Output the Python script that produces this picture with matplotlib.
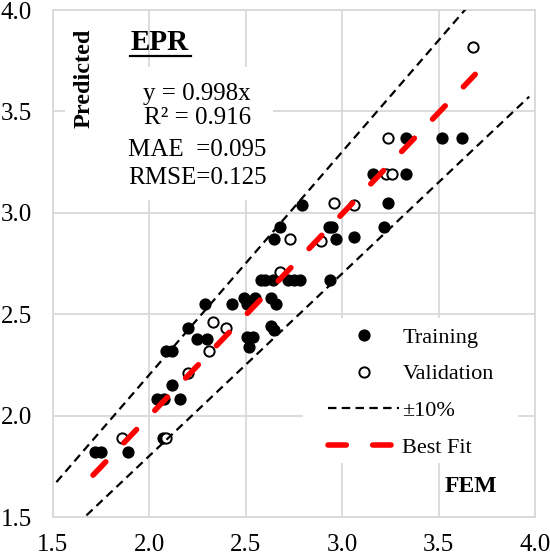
import matplotlib
matplotlib.use('Agg')
import matplotlib.pyplot as plt
from matplotlib.patches import Rectangle
from matplotlib.lines import Line2D
import numpy as np

# data
train_x = [1.72, 1.75, 1.89, 2.07, 2.04, 2.08, 2.16, 2.12, 2.09, 2.12, 2.20, 2.25, 2.30,
           2.29, 2.43, 2.49, 2.51, 2.55, 2.63, 2.66, 2.63, 2.65, 2.51, 2.54, 2.52, 2.58,
           2.60, 2.64, 2.72, 2.75, 2.78, 2.94, 2.65, 2.68, 2.93, 2.95, 2.97, 3.06, 2.79,
           3.22, 3.24, 3.16, 3.33, 3.33, 3.52, 3.62]
train_y = [1.82, 1.82, 1.82, 1.89, 2.08, 2.08, 2.08, 2.15, 2.32, 2.32, 2.43, 2.38, 2.38,
           2.55, 2.55, 2.58, 2.55, 2.58, 2.58, 2.55, 2.44, 2.42, 2.39, 2.39, 2.34, 2.67,
           2.67, 2.67, 2.67, 2.67, 2.67, 2.67, 2.87, 2.93, 2.93, 2.93, 2.87, 2.88, 3.04,
           2.93, 3.05, 3.19, 3.19, 3.37, 3.37, 3.37]
val_x = [1.86, 2.09, 2.20, 2.31, 2.33, 2.40, 2.68, 2.73, 2.89, 2.96, 3.06, 3.24, 3.23, 3.26, 3.68]
val_y = [1.89, 1.89, 2.21, 2.32, 2.46, 2.43, 2.71, 2.87, 2.86, 3.05, 3.04, 3.37, 3.19, 3.19, 3.82]

slope = 0.998
band = 0.10
fit_range = [1.71, 3.69]
band_range = [1.52, 3.97]
ticks = [1.5, 2.0, 2.5, 3.0, 3.5, 4.0]
stats = ['y = 0.998x', 'R\u00b2 = 0.916', 'MAE  =0.095', 'RMSE=0.125']

plt.rcParams['font.family'] = ['Liberation Serif', 'DejaVu Serif']

fig = plt.figure(figsize=(5.5, 5.56), dpi=100)
ax = fig.add_axes([0.0955, 0.0701, 0.8773, 0.9119])

grid_c = '#d9d9d9'
ax.set_xlim(1.5, 4.0)
ax.set_ylim(1.5, 4.0)
ax.set_xticks(ticks)
ax.set_yticks(ticks)
ax.set_xticklabels(['%.1f' % t for t in ticks])
ax.set_yticklabels(['%.1f' % t for t in ticks])
ax.tick_params(length=0, labelsize=18)
ax.tick_params(axis='x', pad=12)
ax.tick_params(axis='y', pad=15)
ax.grid(True, color=grid_c, lw=1.3)
ax.set_axisbelow(True)
for s in ax.spines.values():
    s.set_color(grid_c)
    s.set_linewidth(1.3)

ax.plot(train_x, train_y, 'o', color='black', ms=7.8, zorder=3, label='Training')
ax.plot(val_x, val_y, 'o', mfc='white', mec='black', mew=1.4, ms=7.4, zorder=4,
        label='Validation')

bx = np.array(band_range)
l1, = ax.plot(bx, (1 + band) * bx, color='black', lw=1.6, zorder=5, label='\u00b110%')
l2, = ax.plot(bx, (1 - band) * bx, color='black', lw=1.6, zorder=5)
for l in (l1, l2):
    l.set_dashes((3.8, 2.4))

fx = np.array(fit_range)
lf, = ax.plot(fx, slope * fx, color='#ff0000', lw=4, zorder=6, label='Best Fit',
              solid_capstyle='round', dash_capstyle='round')
lf.set_dashes((3.3, 4.75))

# white boxes behind the text and legend
ax.add_patch(Rectangle((0.026, 0.626), 0.43, 0.262, transform=ax.transAxes,
                       facecolor='white', edgecolor='none', zorder=1))
ax.add_patch(Rectangle((0.519, 0.1065), 0.446, 0.286, transform=ax.transAxes,
                       facecolor='white', edgecolor='none', zorder=1))

ax.text(1.663, 3.665, 'Predicted', rotation=90, ha='center', va='center',
        fontsize=17.5, fontweight='bold', zorder=7)
ax.text(2.057, 3.803, 'EPR', ha='center', va='baseline', fontsize=21,
        fontweight='bold', zorder=7)
ax.add_line(Line2D([0.161, 0.286], [0.909, 0.909], transform=ax.transAxes,
                   color='black', lw=1.6, zorder=7))
for txt, yy in zip(stats, [3.557, 3.438, 3.281, 3.143]):
    ax.text(2.249, yy, txt, ha='center', va='baseline', fontsize=18, zorder=7)
ax.text(3.668, 1.621, 'FEM', ha='center', va='baseline', fontsize=17,
        fontweight='bold', zorder=7)

leg = ax.legend(loc='upper left', bbox_to_anchor=(0.571, 0.3747), frameon=False,
                fontsize=16, borderpad=0, borderaxespad=0, labelspacing=0.73,
                handlelength=3.2, handletextpad=0.15)
leg.set_zorder(8)

fig.savefig('out.png', dpi=100)
